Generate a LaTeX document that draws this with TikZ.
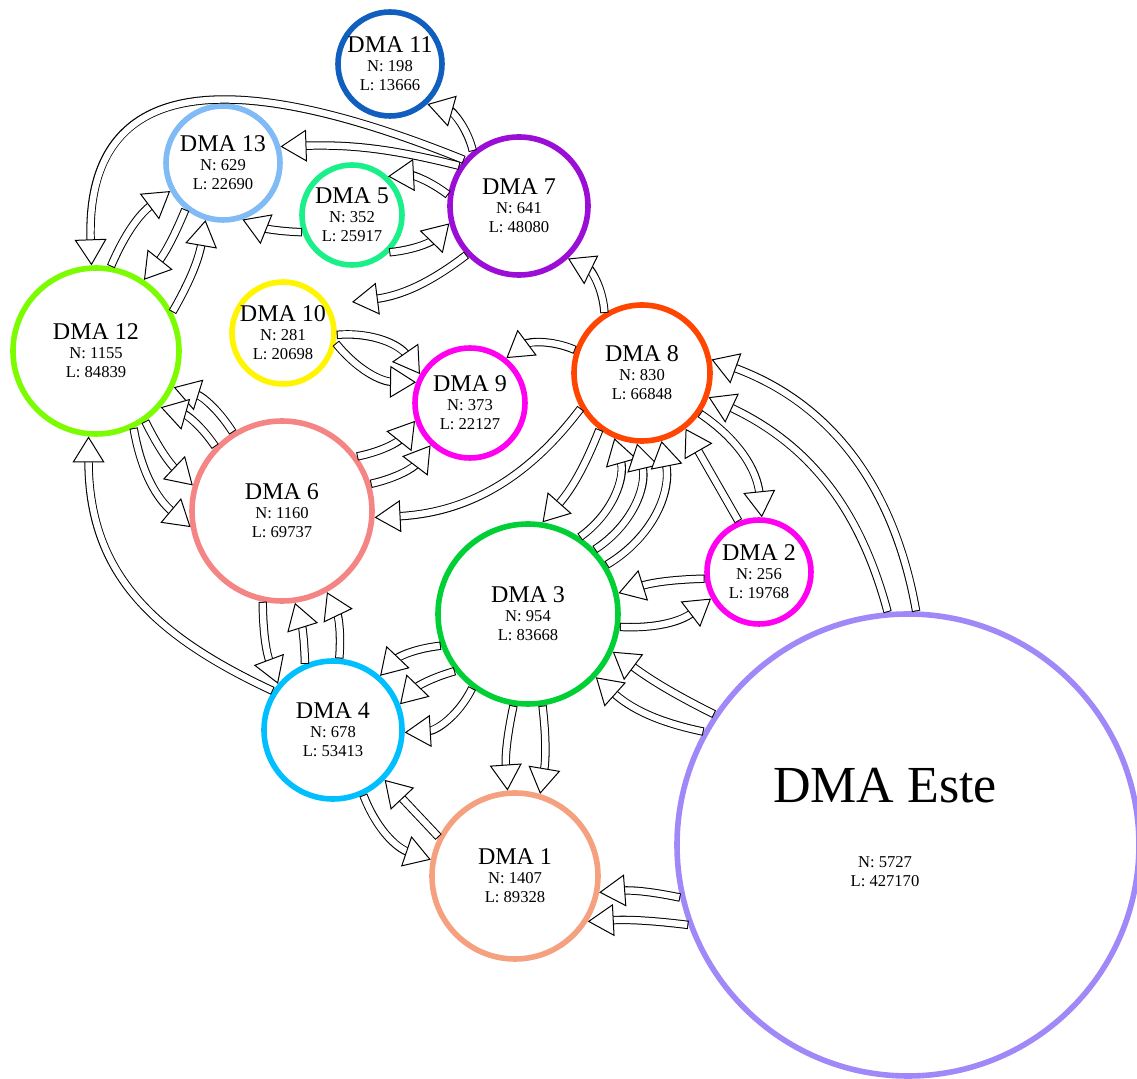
\documentclass[tikz,border=0pt]{standalone}
\usepackage{fontspec}
\setmainfont{Liberation Serif}
\usetikzlibrary{arrows.meta}
\definecolor{dmaone}{HTML}{F5A07F}
\definecolor{dmatwo}{HTML}{FF00F0}
\definecolor{dmathree}{HTML}{00D035}
\definecolor{dmafour}{HTML}{00BFFF}
\definecolor{dmafive}{HTML}{1AF08A}
\definecolor{dmasix}{HTML}{F58585}
\definecolor{dmaseven}{HTML}{9A0ED6}
\definecolor{dmaeight}{HTML}{FF4500}
\definecolor{dmanine}{HTML}{FF00F0}
\definecolor{dmaten}{HTML}{FFF500}
\definecolor{dmaeleven}{HTML}{105EBE}
\definecolor{dmatwelve}{HTML}{7CFC00}
\definecolor{dmathirteen}{HTML}{80BBF5}
\definecolor{dmaeste}{HTML}{A088F8}
\tikzset{
    dmanode/.style={circle,draw=#1,line width=2.8pt,inner sep=0pt,
      align=center,font=\fontsize{8.3}{9.5}\selectfont},
    flowarrow/.style={draw=black,line width=4.2pt,shorten >=12pt,
      postaction={draw=white,line width=3.2pt,shorten <=0.5pt,shorten >=11.5pt},
      postaction={draw=white,line width=0.1pt,shorten <=1pt,shorten >=0pt,
        -{Triangle[length=13pt,width=16pt,fill=white,color=black,line width=0.5pt]}}}
}
\newcommand{\dmalabel}[3]{{\fontsize{12}{9.5}\selectfont DMA #1}\\N: #2\\L: #3}

\begin{document}
\begin{tikzpicture}[x=0.5pt,y=0.5pt]
  \useasboundingbox (0,0) rectangle (1137,-1079);
  \clip (0,0) rectangle (1137,-1079);
  % districts
  \node[dmanode=dmaeleven,minimum size=52pt] (d11) at (390,-64) {\dmalabel{11}{198}{13666}};
  \node[dmanode=dmathirteen,minimum size=57pt] (d13) at (223,-163) {\dmalabel{13}{629}{22690}};
  \node[dmanode=dmafive,minimum size=50pt] (d5) at (352,-215) {\dmalabel{5}{352}{25917}};
  \node[dmanode=dmaseven,minimum size=69pt] (d7) at (519,-206) {\dmalabel{7}{641}{48080}};
  \node[dmanode=dmatwelve,minimum size=83pt] (d12) at (96,-351) {\dmalabel{12}{1155}{84839}};
  \node[dmanode=dmaten,minimum size=51pt] (d10) at (283,-333) {\dmalabel{10}{281}{20698}};
  \node[dmanode=dmanine,minimum size=55pt] (d9) at (470,-403) {\dmalabel{9}{373}{22127}};
  \node[dmanode=dmaeight,minimum size=68pt] (d8) at (642,-373) {\dmalabel{8}{830}{66848}};
  \node[dmanode=dmatwo,minimum size=52pt] (d2) at (759,-572) {\dmalabel{2}{256}{19768}};
  \node[dmanode=dmasix,minimum size=90pt] (d6) at (282,-511) {\dmalabel{6}{1160}{69737}};
  \node[dmanode=dmathree,minimum size=90pt] (d3) at (528,-614) {\dmalabel{3}{954}{83668}};
  \node[dmanode=dmafour,minimum size=69pt] (d4) at (333,-730) {\dmalabel{4}{678}{53413}};
  \node[dmanode=dmaone,minimum size=83pt] (d1) at (515,-876) {\dmalabel{1}{1407}{89328}};
  \node[dmanode=dmaeste,minimum size=231pt] (dE) at (908,-845) {};
  \node[align=center,font=\fontsize{8.3}{9.5}\selectfont] (tE) at (885,-827)
    {{\fontsize{26}{9.5}\selectfont DMA Este}\\[23pt]N: 5727\\L: 427170};
  \coordinate (p10) at (352,-302);
  % flows
  \draw[flowarrow] (d7.130) to[bend right=30] (d11.313);
  \draw[flowarrow] (d7.146) to[bend right=8] (d13.16);
  \draw[flowarrow] (d7.140) to[out=158,in=92,looseness=1.4] (d12.93);
  \draw[flowarrow] (d7.171) to[bend right=20] (d5.47);
  \draw[flowarrow] (d5.199) to[bend left=10] (d13.289);
  \draw[flowarrow] (d5.315) to[bend right=20] (d7.194);
  \draw[flowarrow] (d7.223) to[bend left=15] (p10);
  \draw[flowarrow] (d12.80) to[bend left=15] (d13.208);
  \draw[flowarrow] (d13.231) to[bend left=8] (d12.56);
  \draw[flowarrow] (d12.27) to[bend right=10] (d13.253);
  \draw[flowarrow] (d6.122) to[bend right=20] (d12.335);
  \draw[flowarrow] (d6.136) to[bend right=20] (d12.319);
  \draw[flowarrow] (d12.305) to[bend right=10] (d6.164);
  \draw[flowarrow] (d12.296) to[bend right=20] (d6.190);
  \draw[flowarrow] (d4.147) to[out=155,in=270,looseness=1.1] (d12.265);
  \draw[flowarrow] (d10.358) to[bend left=30] (d9.150);
  \draw[flowarrow] (d10.349) to[bend right=25] (d9.159);
  \draw[flowarrow] (d6.36) to[bend right=20] (d9.198);
  \draw[flowarrow] (d6.17) to[bend right=20] (d9.227);
  \draw[flowarrow] (d8.161) to[bend right=30] (d9.51);
  \draw[flowarrow] (d8.210) to[bend left=25] (d6.356);
  \draw[flowarrow] (d8.122) to[bend right=30] (d7.313);
  \draw[flowarrow] (d8.233) to[bend left=10] (d3.81);
  \draw[flowarrow] (d3.56) to[bend right=35] (d8.247);
  \draw[flowarrow] (d3.44) to[bend right=35] (d8.266);
  \draw[flowarrow] (d3.32) to[bend right=35] (d8.286);
  \draw[flowarrow] (d2.112) -- (d8.308);
  \draw[flowarrow] (d8.325) to[bend left=25] (d2.87);
  \draw[flowarrow] (dE.88) to[out=100,in=-20] (d8.11);
  \draw[flowarrow] (dE.95) to[out=105,in=-25] (d8.340);
  \draw[flowarrow] (d2.187) to[bend right=8] (d3.13);
  \draw[flowarrow] (d3.352) to[bend right=20] (d2.209);
  \draw[flowarrow] (dE.146) to[bend left=5] (d3.336);
  \draw[flowarrow] (dE.151) to[bend left=15] (d3.317);
  \draw[flowarrow] (d3.200) to[bend right=20] (d4.49);
  \draw[flowarrow] (d3.218) to[bend right=15] (d4.21);
  \draw[flowarrow] (d3.233) to[bend left=30] (d4.358);
  \draw[flowarrow] (d3.261) to[bend right=8] (d1.95);
  \draw[flowarrow] (d3.279) to[bend left=8] (d1.73);
  \draw[flowarrow] (d6.258) to[bend right=10] (d4.140);
  \draw[flowarrow] (d4.113) to[bend right=8] (d6.278);
  \draw[flowarrow] (d4.85) to[bend right=15] (d6.299);
  \draw[flowarrow] (d4.295) to[bend right=25] (d1.169);
  \draw[flowarrow] (d1.153) -- (d4.316);
  \draw[flowarrow] (dE.193) to[bend right=8] (d1.349);
  \draw[flowarrow] (dE.200) to[bend right=5] (d1.328);
\end{tikzpicture}
\end{document}
